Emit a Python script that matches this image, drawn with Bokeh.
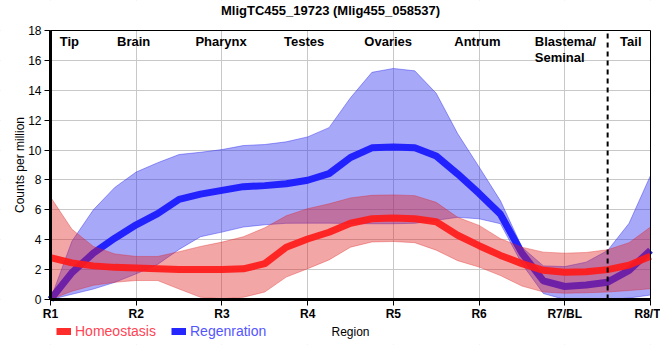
from bokeh.plotting import figure
from bokeh.models import (Legend, LegendItem, FixedTicker, Range1d, ColumnDataSource,
                          LinearAxis, BoxAnnotation)
from bokeh.core.properties import value
from bokeh.embed import file_html
from bokeh.resources import INLINE

# ---------------- data ----------------
title_text = "MligTC455_19723 (Mlig455_058537)"

positions = [1, 1.25, 1.5, 1.75, 2, 2.25, 2.5, 2.75, 3, 3.25, 3.5, 3.75, 4, 4.25, 4.5,
             4.75, 5, 5.25, 5.5, 5.75, 6, 6.25, 6.5, 6.75, 7, 7.25, 7.5, 7.75, 8]

homeo_mean = [2.8, 2.45, 2.25, 2.15, 2.1, 2.05, 2.0, 2.0, 2.0, 2.05, 2.4, 3.5, 4.05, 4.5, 5.1,
              5.4, 5.45, 5.4, 5.2, 4.3, 3.6, 2.95, 2.4, 1.95, 1.83, 1.85, 2.0, 2.3, 2.9]
homeo_upper = [6.86, 4.7, 3.55, 3.05, 2.88, 2.88, 3.2, 3.55, 3.84, 4.2, 4.8, 5.6, 6.08, 6.4, 6.8,
               6.97, 7.0, 6.95, 6.5, 5.5, 4.96, 4.07, 3.5, 3.17, 3.1, 3.15, 3.33, 3.8, 4.85]
homeo_lower = [0.0, 0.55, 0.95, 1.15, 1.27, 1.27, 0.7, 0.15, 0.05, 0.15, 0.5, 1.5, 2.06, 2.65, 3.5,
               3.85, 3.88, 3.8, 3.3, 2.6, 2.17, 1.6, 0.9, 0.5, 0.42, 0.45, 0.5, 0.6, 0.72]

regen_mean = [0.0, 1.8, 3.1, 4.1, 5.0, 5.75, 6.7, 7.05, 7.3, 7.55, 7.62, 7.75, 7.98, 8.42, 9.5,
              10.15, 10.2, 10.15, 9.6, 8.4, 7.1, 5.7, 3.1, 1.25, 0.87, 0.97, 1.16, 1.95, 3.3]
regen_upper = [0.0, 3.9, 6.0, 7.5, 8.53, 9.15, 9.7, 9.85, 10.03, 10.3, 10.37, 10.55, 10.88, 11.5, 13.5,
               15.2, 15.46, 15.3, 13.8, 11.1, 8.87, 6.6, 3.5, 2.25, 2.2, 2.5, 3.28, 5.1, 8.3]
regen_lower = [0.0, 0.35, 0.7, 1.15, 1.72, 2.35, 3.35, 4.2, 4.51, 4.85, 5.0, 5.1, 5.11, 5.11, 5.08,
               5.07, 5.07, 5.1, 5.3, 5.5, 5.4, 5.07, 2.39, 0.4, 0.0, 0.0, 0.0, 0.1, 0.3]

tick_positions = [1, 2, 3, 4, 5, 6, 7, 8]
tick_labels = ["R1", "R2", "R3", "R4", "R5", "R6", "R7/BL", "R8/T"]
y_ticks = [0, 2, 4, 6, 8, 10, 12, 14, 16, 18]

region_names = ["Tip", "Brain", "Pharynx", "Testes", "Ovaries", "Antrum", "Tail"]
region_pos = [1.22, 1.97, 2.99, 3.96, 4.94, 5.98, 7.77]
blastema_name = ["Blastema/\nSeminal"]
blastema_pos = [6.65]

divider = 7.5
x_min, x_max = 1, 8
y_min, y_max = 0, 18
FONT = "Liberation Sans"

# ---------------- layout (pixels) ----------------
W, H = 660, 360
left_px, right_px = 50, 10      # space left of R1 and right of R8
top_px = 30                     # pixel row of y = 18
axis_px = 299                   # pixel row of y = 0
bottom_px = 16                  # space under the legend row
unit_x = (W - left_px - right_px) / (x_max - x_min)
unit_y = (axis_px - top_px) / (y_max - y_min)
x_lo = x_min - left_px / unit_x
x_hi = x_max + right_px / unit_x
y_lo = y_min - (H - bottom_px - axis_px) / unit_y
y_hi = y_max + top_px / unit_y

src = ColumnDataSource(dict(x=positions, hm=homeo_mean, hu=homeo_upper, hl=homeo_lower,
                            rm=regen_mean, ru=regen_upper, rl=regen_lower))

p = figure(width=W, height=H, output_backend="svg", toolbar_location=None,
           x_range=Range1d(x_lo, x_hi), y_range=Range1d(y_lo, y_hi),
           min_border_left=0, min_border_right=0, min_border_top=0,
           min_border_bottom=bottom_px)

# grid & outline
p.xgrid.ticker = FixedTicker(ticks=tick_positions)
p.ygrid.ticker = FixedTicker(ticks=y_ticks)
p.xgrid.grid_line_color = "#c8c8c8"
p.ygrid.grid_line_color = "#c8c8c8"
p.outline_line_color = None
p.background_fill_color = "white"

# white covers hiding grid lines outside the data area
for kw in (dict(top=y_min), dict(bottom=y_max), dict(right=x_min), dict(left=x_max)):
    p.add_layout(BoxAnnotation(fill_color="white", fill_alpha=1, line_color=None,
                               level="underlay", **kw))

# axes
p.xaxis.fixed_location = y_min
p.xaxis.bounds = (x_min, x_max)
p.xaxis.ticker = FixedTicker(ticks=tick_positions)
p.xaxis.major_label_overrides = {t: l for t, l in zip(tick_positions, tick_labels)}
p.yaxis.fixed_location = x_min
p.yaxis.bounds = (y_min, y_max)
p.yaxis.ticker = FixedTicker(ticks=y_ticks)
for ax in (p.xaxis, p.yaxis):
    ax.axis_line_width = 3
    ax.axis_line_color = "black"
    ax.major_tick_out = 6
    ax.major_tick_in = 0
    ax.minor_tick_out = 0
    ax.minor_tick_in = 0
    ax.major_tick_line_color = "black"
    ax.major_label_text_font = FONT
    ax.major_label_text_font_size = "12px"
    ax.major_label_text_color = "black"
    ax.axis_label_text_font = FONT
    ax.axis_label_text_font_size = "12px"
    ax.axis_label_text_font_style = "normal"
    ax.axis_label_text_color = "black"
p.xaxis.major_label_text_font_style = "bold"
p.xaxis.major_label_standoff = 1
p.xaxis.axis_label = "Region"
p.xaxis.axis_label_standoff = 1
p.yaxis.axis_label = "Counts per million"
p.yaxis.major_label_standoff = 3
p.yaxis.axis_label_standoff = -2

# thin border on the top and right of the data area
right_border = LinearAxis(fixed_location=x_max, bounds=(y_min, y_max), major_tick_out=0,
                          major_tick_in=0, minor_tick_out=0, minor_tick_in=0,
                          major_label_text_font_size="0px", major_label_text_alpha=0,
                          axis_line_color="black", axis_line_width=1)
p.add_layout(right_border, "right")
top_border = LinearAxis(fixed_location=y_max, bounds=(x_min, x_max), major_tick_out=0,
                        major_tick_in=0, minor_tick_out=0, minor_tick_in=0,
                        major_label_text_font_size="0px", major_label_text_alpha=0,
                        axis_line_color="black", axis_line_width=1)
p.add_layout(top_border, "above")

# title (centred across the whole picture)
p.text(x=[(x_lo + x_hi) / 2], y=[y_hi], text=[title_text], text_font=value(FONT),
       text_font_size="13px", text_font_style="bold", text_align="center",
       text_baseline="top", y_offset=2, text_color="black")

# regeneration band + line
p.varea(x="x", y1="rl", y2="ru", source=src, fill_color="#3030f0", fill_alpha=0.42)
p.line(x="x", y="ru", source=src, line_color="#3030f0", line_alpha=0.45, line_width=1)
p.line(x="x", y="rl", source=src, line_color="#3030f0", line_alpha=0.45, line_width=1)
r_regen = p.line(x="x", y="rm", source=src, line_color="#1a1aff", line_width=7, line_alpha=0.95)

# homeostasis band + line
p.varea(x="x", y1="hl", y2="hu", source=src, fill_color="#e02020", fill_alpha=0.4)
p.line(x="x", y="hu", source=src, line_color="#e02020", line_alpha=0.35, line_width=1)
p.line(x="x", y="hl", source=src, line_color="#e02020", line_alpha=0.35, line_width=1)
r_homeo = p.line(x="x", y="hm", source=src, line_color="#ff1a1a", line_width=7, line_alpha=0.92)

# divider (dashed vertical line between R7 and R8)
p.segment(x0=[divider], y0=[y_min], x1=[divider], y1=[y_max], line_color="black",
          line_width=2, line_dash="5 4")

# region labels
p.text(x=region_pos, y=[y_max] * len(region_pos), text=region_names,
       text_font=value(FONT), text_font_size="13px", text_font_style="bold",
       text_align="center", text_baseline="top", y_offset=3, text_color="black")
p.text(x=blastema_pos, y=[y_max], text=blastema_name,
       text_font=value(FONT), text_font_size="13px", text_font_style="bold",
       text_align="left", text_baseline="top", y_offset=3, text_color="black",
       text_line_height=1.1)

# legends
def make_legend(label, renderer, color, loc):
    lg = Legend(items=[LegendItem(label=label, renderers=[renderer])], location=loc,
                orientation="horizontal", padding=0, margin=0, spacing=0,
                border_line_color=None, background_fill_alpha=0,
                glyph_width=15, glyph_height=14, label_height=14, label_standoff=4,
                label_text_font=FONT, label_text_font_size="14px", label_text_color=color)
    p.add_layout(lg)

make_legend("Homeostasis", r_homeo, "#ff4455", (56, 5))
make_legend("Regenration", r_regen, "#5555ff", (171, 5))

open("out.html", "w").write(file_html(p, INLINE))
